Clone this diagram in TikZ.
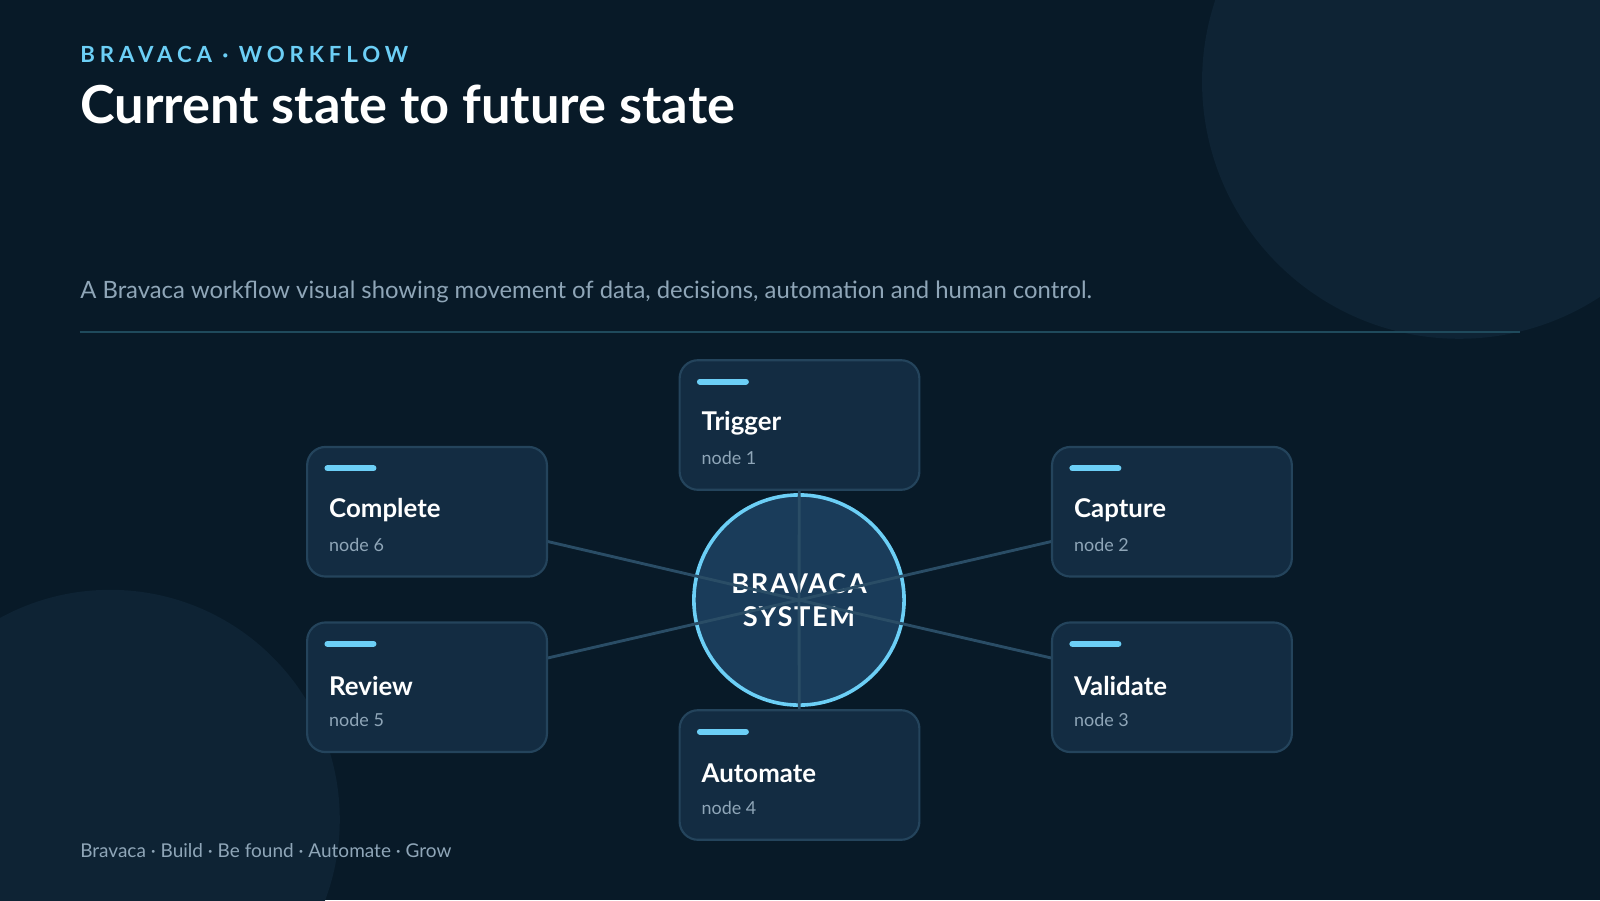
\documentclass[tikz,border=0pt]{standalone}
\usepackage{fontspec}
\setmainfont{Lato}
\usetikzlibrary{positioning, calc}
\definecolor{bgdark}{HTML}{081A28}
\definecolor{bgblob}{HTML}{0E2334}
\definecolor{accent}{HTML}{6CCFF6}
\definecolor{boxfill}{HTML}{132C42}
\definecolor{boxline}{HTML}{24445C}
\definecolor{hubfill}{HTML}{1A3C5A}
\definecolor{wire}{HTML}{2A4D66}
\definecolor{muted}{HTML}{8FA6B8}
\definecolor{rule}{HTML}{1F4A5C}
\tikzset{
	flowbox/.style={rectangle, rounded corners=0.18cm, minimum width=2.35cm,
		minimum height=1.27cm, draw=boxline, line width=0.6pt, fill=boxfill},
	wire/.style={draw=wire, line width=0.8pt},
	steptitle/.style={anchor=west, text=white, font=\bfseries\fontsize{7.2}{8}\selectfont, inner sep=0pt},
	stepsub/.style={anchor=west, text=muted, font=\fontsize{5}{6}\selectfont, inner sep=0pt}
}
\newcommand{\stepbox}[3]{%
	\node (#1) [flowbox] at (#1c) {};
	\draw [accent, line width=1.7pt, line cap=round] ([xshift=0.21cm, yshift=-0.22cm]#1.north west) -- ++(0.45,0);
	\node (#1t) [steptitle] at ([xshift=0.22cm, yshift=-0.63cm]#1.north west) {#2};
	\node (#1s) [stepsub] at ([xshift=0.22cm, yshift=-0.97cm]#1.north west) {#3};
}
\begin{document}
\begin{tikzpicture}
	% background
	\fill[bgdark] (0,0) rectangle (15.68,8.82);
	\useasboundingbox (0,0) rectangle (15.68,8.82);
	\begin{scope}
		\clip (0,0) rectangle (15.68,8.82);
		\fill[bgblob] (14.30,8.02) circle (2.52);
		\fill[bgblob] (1.08,0.79) circle (2.25);
	\end{scope}

	% header
	\node (kicker) [anchor=west, inner sep=0pt, text=accent, font=\bfseries\fontsize{6.2}{7}\selectfont\addfontfeatures{LetterSpace=22}] at (0.78,8.29) {BRAVACA · WORKFLOW};
	\node (title) [anchor=west, inner sep=0pt, text=white, font=\bfseries\fontsize{14.6}{17}\selectfont] at (0.78,7.80) {Current state to future state};
	\node (lead) [anchor=west, inner sep=0pt, text=muted, font=\fontsize{6.65}{8}\selectfont] at (0.78,5.96) {A Bravaca workflow visual showing movement of data, decisions, automation and human control.};
	\draw [rule, line width=0.5pt] (0.78,5.57) -- (14.90,5.57);

	% hub
	\node (hub) [circle, minimum size=2.06cm, fill=hubfill, draw=accent, line width=1pt] at (7.83,2.94) {};
	\node (hublabel) [align=center, text=white, font=\bfseries\fontsize{7.6}{9}\selectfont\addfontfeatures{LetterSpace=6}] at (hub) {BRAVACA\\SYSTEM};

	% box positions
	\coordinate (triggerc) at (7.835,4.655);
	\coordinate (capturec) at (11.485,3.805);
	\coordinate (validatec) at (11.485,2.085);
	\coordinate (automatec) at (7.835,1.225);
	\coordinate (reviewc) at (4.185,2.085);
	\coordinate (completec) at (4.185,3.805);

	% wires
	\draw [wire] (hub.center) -- (triggerc);
	\draw [wire] (hub.center) -- (automatec);
	\draw [wire] (hub.center) -- ($(capturec)+(-1.175,-0.29)$);
	\draw [wire] (hub.center) -- ($(validatec)+(-1.175,0.285)$);
	\draw [wire] (hub.center) -- ($(completec)+(1.175,-0.29)$);
	\draw [wire] (hub.center) -- ($(reviewc)+(1.175,0.285)$);

	% boxes
	\stepbox{trigger}{Trigger}{node 1}
	\stepbox{capture}{Capture}{node 2}
	\stepbox{validate}{Validate}{node 3}
	\stepbox{automate}{Automate}{node 4}
	\stepbox{review}{Review}{node 5}
	\stepbox{complete}{Complete}{node 6}

	% footer
	\node (footer) [anchor=west, inner sep=0pt, text=muted, font=\fontsize{5.3}{6}\selectfont] at (0.78,0.48) {Bravaca · Build · Be found · Automate · Grow};
\end{tikzpicture}
\end{document}
